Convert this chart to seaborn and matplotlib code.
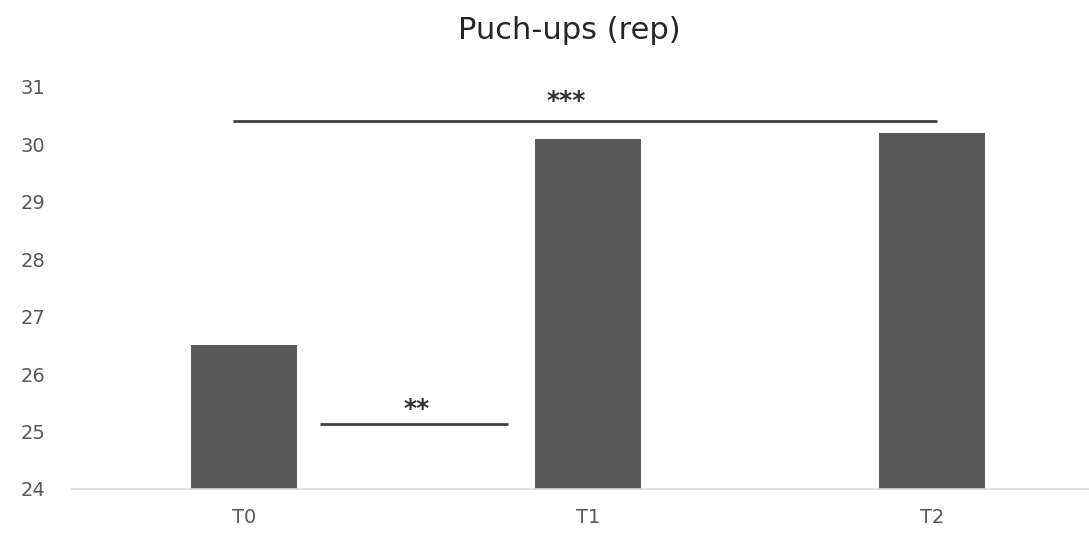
import matplotlib
matplotlib.use("Agg")
import matplotlib.pyplot as plt
import seaborn as sns

categories = ["T0", "T1", "T2"]
values = [26.5, 30.1, 30.2]
title = "Puch-ups (rep)"
y_ticks = [24, 25, 26, 27, 28, 29, 30, 31]
sig_labels = ["***", "**"]

sns.set_theme(style="white")
plt.rcParams["font.family"] = ["DejaVu Sans"]

fig = plt.figure(figsize=(10.89, 5.35), dpi=100)
ax = fig.add_axes([72/1089, 46/535, 1 - 72/1089, (489-87)/535])

sns.barplot(x=categories, y=values, color="#595959", width=0.31, ax=ax,
            saturation=1, linewidth=0)

ax.set_ylim(24, 31)
ax.set_xlim(-0.5, (1089 - 244) / 344)
ax.set_yticks(y_ticks)
ax.set_yticklabels([str(t) for t in y_ticks])
ax.tick_params(axis="both", length=0, labelsize=14, colors="#595959")
ax.tick_params(axis="y", pad=19)
ax.tick_params(axis="x", pad=14)
for s in ["top", "right", "left"]:
    ax.spines[s].set_visible(False)
ax.spines["bottom"].set_color("#d9d9d9")
ax.spines["bottom"].set_linewidth(1.2)
ax.set_xlabel("")
ax.set_ylabel("")

# significance brackets
line_style = dict(color="#404040", lw=2, solid_capstyle="butt")
ax.plot([-0.032, 2.015], [30.41, 30.41], **line_style)
ax.plot([0.221, 0.767], [25.13, 25.13], **line_style)
ax.text(0.936, 30.76, sig_labels[0], ha="center", va="center", fontsize=18,
        color="#333333", fontweight="bold")
ax.text(0.503, 25.40, sig_labels[1], ha="center", va="center", fontsize=18,
        color="#333333", fontweight="bold")

fig.text(569/1089, 1 - 39/535, title, ha="center", va="baseline", fontsize=22, color="#262626")

fig.savefig("out.png", dpi=100)
